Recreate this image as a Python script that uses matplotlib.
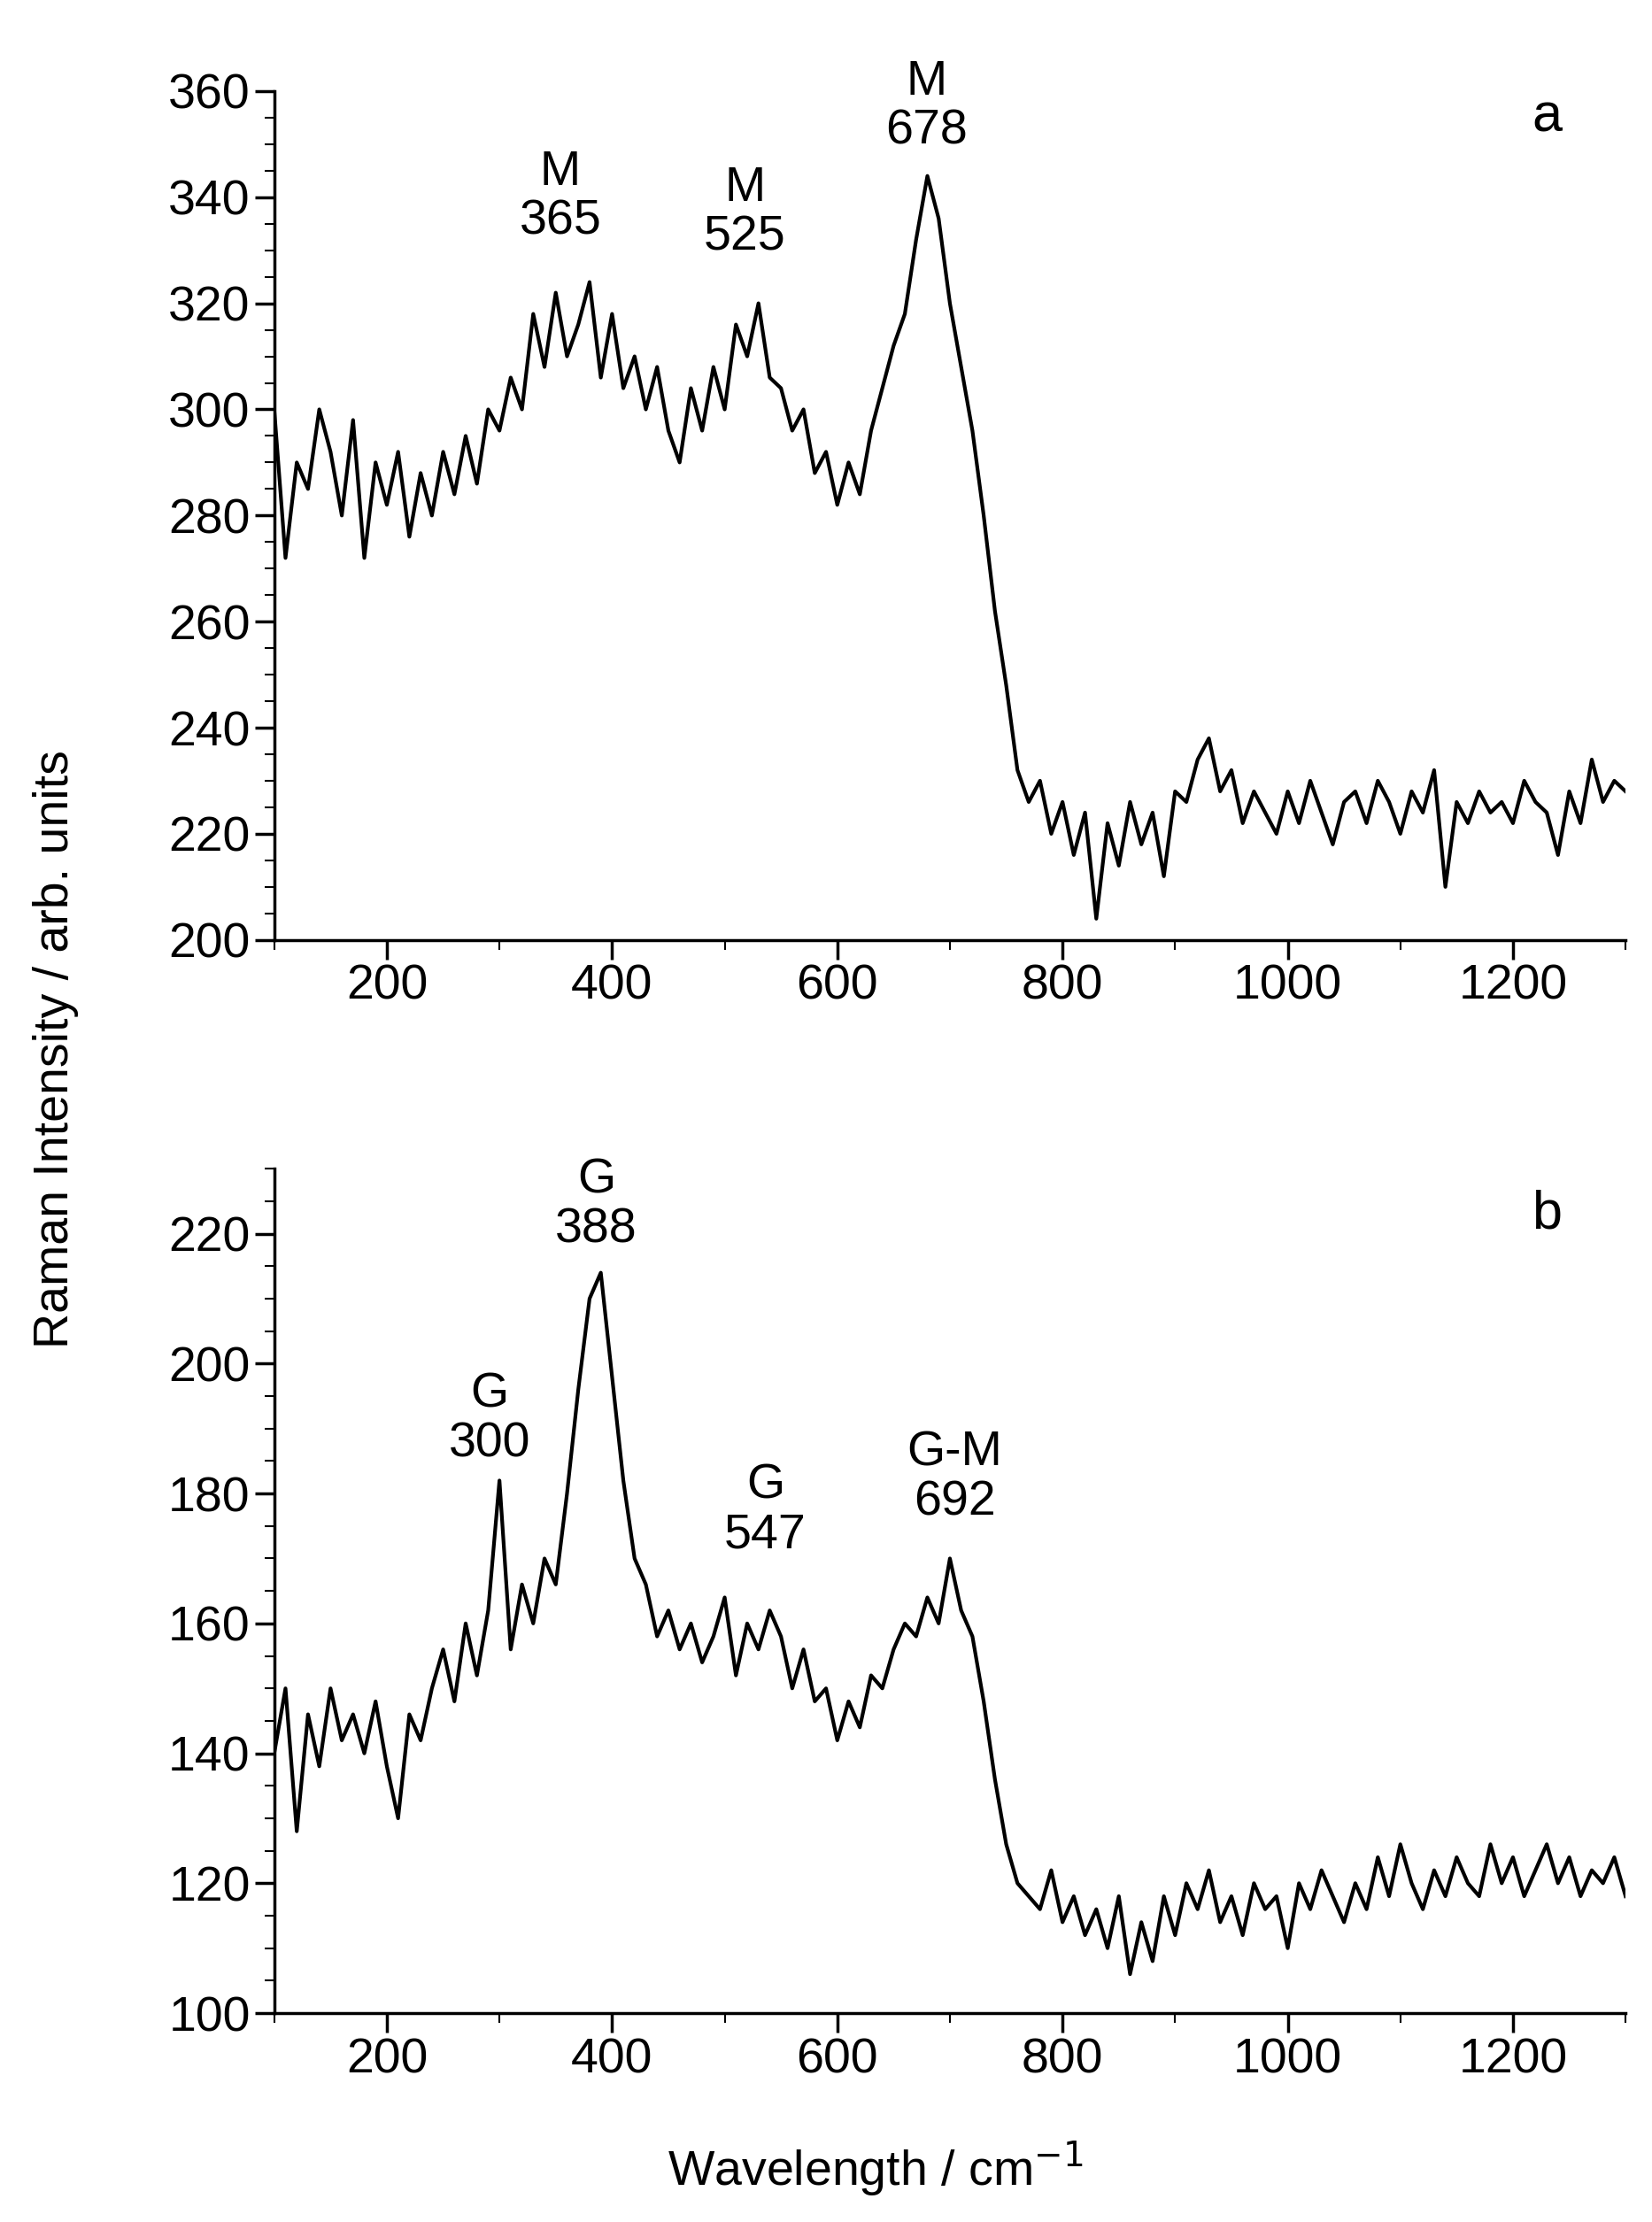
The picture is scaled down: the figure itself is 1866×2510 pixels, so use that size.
import matplotlib
matplotlib.use("Agg")
import matplotlib.pyplot as plt
import numpy as np
from matplotlib.ticker import MultipleLocator

plt.rcParams['font.family'] = ['Liberation Sans', 'DejaVu Sans']

wn = np.arange(100, 1301, 10)

# panel a (M bands)
int_a = [300, 272, 290, 285, 300, 292, 280, 298, 272, 290, 282, 292, 276, 288, 280, 292, 284, 295, 286, 300,
         296, 306, 300, 318, 308, 322, 310, 316, 324, 306, 318, 304, 310, 300, 308, 296, 290, 304, 296, 308,
         300, 316, 310, 320, 306, 304, 296, 300, 288, 292, 282, 290, 284, 296, 304, 312, 318, 332, 344, 336,
         320, 308, 296, 280, 262, 248, 232, 226, 230, 220, 226, 216, 224, 204, 222, 214, 226, 218, 224, 212,
         228, 226, 234, 238, 228, 232, 222, 228, 224, 220, 228, 222, 230, 224, 218, 226, 228, 222, 230, 226,
         220, 228, 224, 232, 210, 226, 222, 228, 224, 226, 222, 230, 226, 224, 216, 228, 222, 234, 226, 230, 228]

# panel b (G bands)
int_b = [140, 150, 128, 146, 138, 150, 142, 146, 140, 148, 138, 130, 146, 142, 150, 156, 148, 160, 152, 162,
         182, 156, 166, 160, 170, 166, 180, 196, 210, 214, 198, 182, 170, 166, 158, 162, 156, 160, 154, 158,
         164, 152, 160, 156, 162, 158, 150, 156, 148, 150, 142, 148, 144, 152, 150, 156, 160, 158, 164, 160,
         170, 162, 158, 148, 136, 126, 120, 118, 116, 122, 114, 118, 112, 116, 110, 118, 106, 114, 108, 118,
         112, 120, 116, 122, 114, 118, 112, 120, 116, 118, 110, 120, 116, 122, 118, 114, 120, 116, 124, 118,
         126, 120, 116, 122, 118, 124, 120, 118, 126, 120, 124, 118, 122, 126, 120, 124, 118, 122, 120, 124, 118]

labels_a = [("M\n365", 354, 331), ("M\n525", 518, 328), ("M\n678", 679, 348)]
labels_b = [("G\n300", 291, 184), ("G\n388", 386, 217), ("G\n547", 536, 170), ("G-M\n692", 704, 175)]

fig = plt.figure(figsize=(18.66, 25.10), dpi=100)
ax1 = fig.add_axes([0.166, 0.577, 0.818, 0.382])
ax2 = fig.add_axes([0.166, 0.094, 0.818, 0.380])

fs = 40
for ax, y, ylim, maj, labels, tag, tagy in [
        (ax1, int_a, (200, 360), 20, labels_a, "a", 355),
        (ax2, int_b, (100, 230), 20, labels_b, "b", 223)]:
    ax.plot(wn, y, color='black', lw=3)
    ax.set_xlim(100, 1300)
    ax.set_ylim(*ylim)
    ax.xaxis.set_major_locator(MultipleLocator(200))
    ax.xaxis.set_minor_locator(MultipleLocator(100))
    ax.yaxis.set_major_locator(MultipleLocator(maj))
    ax.yaxis.set_minor_locator(MultipleLocator(maj / 4))
    ax.spines['top'].set_visible(False)
    ax.spines['right'].set_visible(False)
    for s in ['left', 'bottom']:
        ax.spines[s].set_linewidth(2.5)
    ax.tick_params(which='major', direction='out', length=16, width=2.5, labelsize=fs)
    ax.tick_params(which='minor', direction='out', length=8, width=1.5)
    for txt, x, yy in labels:
        ax.text(x, yy, txt, ha='center', va='bottom', fontsize=fs, linespacing=1.1, clip_on=False)
    ax.text(1230, tagy, tag, ha='center', va='center', fontsize=fs + 4)

fig.text(0.034, 0.528, "Raman Intensity / arb. units", rotation=90, ha='center', va='center', fontsize=fs)
fig.text(0.53, 0.024, "Wavelength / cm$^{-1}$", ha='center', va='center', fontsize=fs)

fig.savefig("out.png", dpi=100)
